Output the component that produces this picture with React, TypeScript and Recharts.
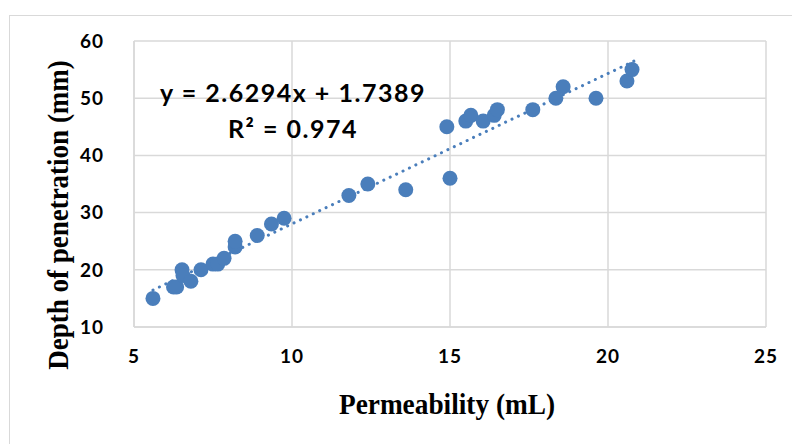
import { ScatterChart, Scatter, XAxis, YAxis, CartesianGrid, ReferenceLine } from 'recharts'

// permeability (mL) vs depth of penetration (mm)
const permeability = [
  5.6, 6.25, 6.35, 6.52, 6.55, 6.8, 7.12, 7.5, 7.65, 7.85, 8.2, 8.2, 8.9, 9.35, 9.75,
  11.8, 12.4, 13.6, 14.9, 15.0, 15.5, 15.66, 16.05, 16.4, 16.5, 17.62, 18.35, 18.58, 19.62, 20.6, 20.76,
]
const depth = [
  15, 17, 17, 20, 19, 18, 20, 21, 21, 22, 24, 25, 26, 28, 29,
  33, 35, 34, 45, 36, 46, 47, 46, 47, 48, 48, 50, 52, 50, 53, 55,
]

// linear trendline endpoints
const trendX = [5.6, 20.85]
const trendY = [16.46, 56.56]

const xTicks = [5, 10, 15, 20, 25]
const yTicks = [10, 20, 30, 40, 50, 60]

const equation = 'y = 2.6294x + 1.7389'
const rSquared = 'R² = 0.974'

const BLUE = '#4a7ebb'

export default function App() {
  const points = permeability.map((x, i) => ({ x, y: depth[i] }))
  const tickStyle = { fontSize: 19, fontWeight: 700, fill: '#000', fontFamily: 'Lato, sans-serif', letterSpacing: 1 }
  const eqFont = '700 25px Lato, sans-serif'
  const titleFont = '700 30px "Liberation Serif", serif'

  return (
    <div style={{ position: 'absolute', left: 0, top: 0, width: 792, height: 444, background: '#fff', overflow: 'hidden' }}>
      <div
        style={{
          position: 'absolute', left: 9, top: 15, width: 820, height: 460,
          border: '1px solid #d9d9d9', boxSizing: 'border-box',
        }}
      />
      <ScatterChart width={792} height={444} margin={{ top: 41, right: 26, left: 74, bottom: 77 }}>
        <CartesianGrid stroke="#d9d9d9" strokeWidth={1.5} />
        <XAxis
          type="number" dataKey="x" domain={[5, 25]} ticks={xTicks}
          axisLine={{ stroke: '#d9d9d9', strokeWidth: 1.5 }} tickLine={false}
          tick={tickStyle} tickMargin={17} height={40}
        />
        <YAxis
          type="number" dataKey="y" domain={[10, 60]} ticks={yTicks}
          axisLine={{ stroke: '#d9d9d9', strokeWidth: 1.5 }} tickLine={false}
          tick={tickStyle} tickMargin={24} width={60}
        />
        <ReferenceLine
          segment={[{ x: trendX[0], y: trendY[0] }, { x: trendX[1], y: trendY[1] }]}
          stroke={BLUE} strokeWidth={3} strokeDasharray="0.1 7" strokeLinecap="round"
        />
        <Scatter data={points} fill={BLUE} isAnimationActive={false}
          shape={(p: any) => <circle cx={p.cx} cy={p.cy} r={7.5} fill={BLUE} />} />
      </ScatterChart>
      <div style={{ position: 'absolute', left: 143, top: 77, width: 300, textAlign: 'center', font: eqFont, letterSpacing: 1.5, color: '#000' }}>
        {equation}
      </div>
      <div style={{ position: 'absolute', left: 143, top: 113, width: 300, textAlign: 'center', font: eqFont, letterSpacing: 1.5, color: '#000' }}>
        {rSquared}
      </div>
      <div
        style={{
          position: 'absolute', left: 447, top: 404, whiteSpace: 'nowrap',
          transform: 'translate(-50%, -50%) scaleX(0.91)',
          font: titleFont, color: '#000',
        }}
      >
        Permeability (mL)
      </div>
      <div
        style={{
          position: 'absolute', left: 58, top: 215, whiteSpace: 'nowrap',
          transform: 'translate(-50%, -50%) rotate(-90deg) scaleX(0.9)',
          font: titleFont, color: '#000',
        }}
      >
        Depth of penetration (mm)
      </div>
    </div>
  )
}
